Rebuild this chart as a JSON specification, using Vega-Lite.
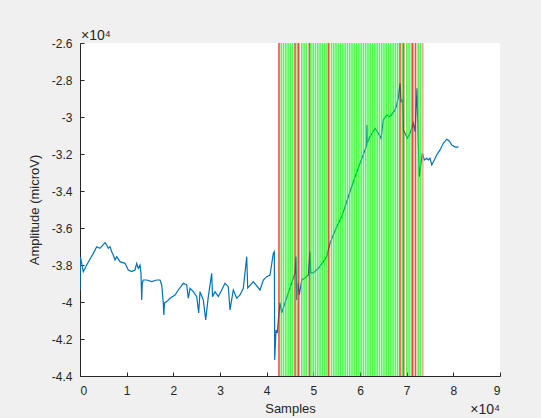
{
  "$schema": "https://vega.github.io/schema/vega-lite/v6.json",
  "width": 420,
  "height": 333,
  "autosize": "none",
  "padding": {"left": 80, "top": 43, "right": 41, "bottom": 42},
  "background": "#f0f0f0",
  "config": {
    "view": {"fill": "white", "stroke": null},
    "font": "Liberation Sans",
    "axis": {
      "grid": false,
      "domainColor": "#262626",
      "tickColor": "#262626",
      "labelColor": "#262626",
      "titleColor": "#262626",
      "labelFont": "Liberation Sans",
      "titleFont": "Liberation Sans",
      "labelFontSize": 12,
      "titleFontSize": 13,
      "titleFontWeight": "normal",
      "tickSize": -4,
      "labelOverlap": false
    }
  },
  "datasets": {
    "signal": [
      {"sample": 0, "amplitude": -39350},
      {"sample": 107, "amplitude": -37570},
      {"sample": 707, "amplitude": -38360},
      {"sample": 1436, "amplitude": -38000},
      {"sample": 2850, "amplitude": -37370},
      {"sample": 3579, "amplitude": -37010},
      {"sample": 4286, "amplitude": -37100},
      {"sample": 5358, "amplitude": -36790},
      {"sample": 5722, "amplitude": -36920},
      {"sample": 6065, "amplitude": -37100},
      {"sample": 6429, "amplitude": -37010},
      {"sample": 6793, "amplitude": -37280},
      {"sample": 7136, "amplitude": -37460},
      {"sample": 7501, "amplitude": -37730},
      {"sample": 7865, "amplitude": -37550},
      {"sample": 8572, "amplitude": -37820},
      {"sample": 9644, "amplitude": -37910},
      {"sample": 10351, "amplitude": -38270},
      {"sample": 11079, "amplitude": -38360},
      {"sample": 11787, "amplitude": -38270},
      {"sample": 12151, "amplitude": -37910},
      {"sample": 12494, "amplitude": -38180},
      {"sample": 12858, "amplitude": -38000},
      {"sample": 13072, "amplitude": -38450},
      {"sample": 13222, "amplitude": -39890},
      {"sample": 13351, "amplitude": -38970},
      {"sample": 13565, "amplitude": -38810},
      {"sample": 14294, "amplitude": -38810},
      {"sample": 15365, "amplitude": -38900},
      {"sample": 16437, "amplitude": -38810},
      {"sample": 17144, "amplitude": -38810},
      {"sample": 17508, "amplitude": -39080},
      {"sample": 17851, "amplitude": -40070},
      {"sample": 17958, "amplitude": -40700},
      {"sample": 18108, "amplitude": -40050},
      {"sample": 18580, "amplitude": -39980},
      {"sample": 19287, "amplitude": -39800},
      {"sample": 20359, "amplitude": -39620},
      {"sample": 21066, "amplitude": -39350},
      {"sample": 22137, "amplitude": -38990},
      {"sample": 22866, "amplitude": -39080},
      {"sample": 23209, "amplitude": -39800},
      {"sample": 23573, "amplitude": -39260},
      {"sample": 24280, "amplitude": -39440},
      {"sample": 25009, "amplitude": -39710},
      {"sample": 25437, "amplitude": -40590},
      {"sample": 25716, "amplitude": -39440},
      {"sample": 26423, "amplitude": -39890},
      {"sample": 26937, "amplitude": -40970},
      {"sample": 27494, "amplitude": -39710},
      {"sample": 28223, "amplitude": -38450},
      {"sample": 28395, "amplitude": -39710},
      {"sample": 28931, "amplitude": -39440},
      {"sample": 29638, "amplitude": -39710},
      {"sample": 30366, "amplitude": -39350},
      {"sample": 31074, "amplitude": -38990},
      {"sample": 31781, "amplitude": -39170},
      {"sample": 32145, "amplitude": -40430},
      {"sample": 32852, "amplitude": -39350},
      {"sample": 33581, "amplitude": -39800},
      {"sample": 34288, "amplitude": -39620},
      {"sample": 34995, "amplitude": -39260},
      {"sample": 35724, "amplitude": -37550},
      {"sample": 35938, "amplitude": -39240},
      {"sample": 37138, "amplitude": -38900},
      {"sample": 38574, "amplitude": -39350},
      {"sample": 39281, "amplitude": -38810},
      {"sample": 40010, "amplitude": -38630},
      {"sample": 40717, "amplitude": -38540},
      {"sample": 41424, "amplitude": -37370},
      {"sample": 41638, "amplitude": -37280},
      {"sample": 41724, "amplitude": -43130},
      {"sample": 42003, "amplitude": -41510},
      {"sample": 42281, "amplitude": -41670},
      {"sample": 42496, "amplitude": -40970},
      {"sample": 42860, "amplitude": -40050},
      {"sample": 43224, "amplitude": -40590},
      {"sample": 43931, "amplitude": -40050},
      {"sample": 44639, "amplitude": -39510},
      {"sample": 45368, "amplitude": -38970},
      {"sample": 46075, "amplitude": -38430},
      {"sample": 46289, "amplitude": -37550},
      {"sample": 46439, "amplitude": -39890},
      {"sample": 46717, "amplitude": -38970},
      {"sample": 46996, "amplitude": -39620},
      {"sample": 47510, "amplitude": -38810},
      {"sample": 48218, "amplitude": -38700},
      {"sample": 48925, "amplitude": -38540},
      {"sample": 49289, "amplitude": -37280},
      {"sample": 49439, "amplitude": -38430},
      {"sample": 49996, "amplitude": -38430},
      {"sample": 51068, "amplitude": -38180},
      {"sample": 52139, "amplitude": -37820},
      {"sample": 52868, "amplitude": -37550},
      {"sample": 53575, "amplitude": -36830},
      {"sample": 54282, "amplitude": -36380},
      {"sample": 55011, "amplitude": -35930},
      {"sample": 56082, "amplitude": -35390},
      {"sample": 56790, "amplitude": -34850},
      {"sample": 57861, "amplitude": -34040},
      {"sample": 58933, "amplitude": -33230},
      {"sample": 60004, "amplitude": -32500},
      {"sample": 61076, "amplitude": -31780},
      {"sample": 61440, "amplitude": -31510},
      {"sample": 61483, "amplitude": -30430},
      {"sample": 61547, "amplitude": -31410},
      {"sample": 62147, "amplitude": -31060},
      {"sample": 63219, "amplitude": -30610},
      {"sample": 63926, "amplitude": -30880},
      {"sample": 64504, "amplitude": -31150},
      {"sample": 64997, "amplitude": -30160},
      {"sample": 65726, "amplitude": -29890},
      {"sample": 66433, "amplitude": -29980},
      {"sample": 67505, "amplitude": -29620},
      {"sample": 67869, "amplitude": -29350},
      {"sample": 68083, "amplitude": -29080},
      {"sample": 68212, "amplitude": -28990},
      {"sample": 68576, "amplitude": -28180},
      {"sample": 68790, "amplitude": -29170},
      {"sample": 69069, "amplitude": -29080},
      {"sample": 69283, "amplitude": -30700},
      {"sample": 69648, "amplitude": -30880},
      {"sample": 70140, "amplitude": -31150},
      {"sample": 70719, "amplitude": -30880},
      {"sample": 71426, "amplitude": -30340},
      {"sample": 71791, "amplitude": -30790},
      {"sample": 72219, "amplitude": -28450},
      {"sample": 72498, "amplitude": -31420},
      {"sample": 72712, "amplitude": -33230},
      {"sample": 73076, "amplitude": -32500},
      {"sample": 73355, "amplitude": -31960},
      {"sample": 73783, "amplitude": -32320},
      {"sample": 74298, "amplitude": -32230},
      {"sample": 74641, "amplitude": -32320},
      {"sample": 75005, "amplitude": -32230},
      {"sample": 75370, "amplitude": -32590},
      {"sample": 75927, "amplitude": -32320},
      {"sample": 76441, "amplitude": -32050},
      {"sample": 77148, "amplitude": -31780},
      {"sample": 77855, "amplitude": -31420},
      {"sample": 78584, "amplitude": -31200},
      {"sample": 79077, "amplitude": -31280},
      {"sample": 79656, "amplitude": -31510},
      {"sample": 80212, "amplitude": -31600},
      {"sample": 80727, "amplitude": -31640},
      {"sample": 81069, "amplitude": -31600}
    ],
    "markers": [
      {"pos": 42640, "kind": "red"},
      {"pos": 43129, "kind": "green"},
      {"pos": 43618, "kind": "green"},
      {"pos": 44107, "kind": "green"},
      {"pos": 44596, "kind": "green"},
      {"pos": 45085, "kind": "green"},
      {"pos": 45574, "kind": "green"},
      {"pos": 46075, "kind": "red"},
      {"pos": 46552, "kind": "green"},
      {"pos": 46867, "kind": "red"},
      {"pos": 47530, "kind": "green"},
      {"pos": 48019, "kind": "green"},
      {"pos": 48508, "kind": "green"},
      {"pos": 49140, "kind": "red"},
      {"pos": 49486, "kind": "green"},
      {"pos": 49975, "kind": "green"},
      {"pos": 50464, "kind": "green"},
      {"pos": 50953, "kind": "green"},
      {"pos": 51442, "kind": "green"},
      {"pos": 51931, "kind": "green"},
      {"pos": 52420, "kind": "green"},
      {"pos": 52909, "kind": "green"},
      {"pos": 53300, "kind": "red"},
      {"pos": 53887, "kind": "green"},
      {"pos": 54376, "kind": "green"},
      {"pos": 54865, "kind": "green"},
      {"pos": 55354, "kind": "green"},
      {"pos": 55843, "kind": "green"},
      {"pos": 56332, "kind": "green"},
      {"pos": 56821, "kind": "green"},
      {"pos": 57310, "kind": "green"},
      {"pos": 57799, "kind": "green"},
      {"pos": 58288, "kind": "green"},
      {"pos": 58777, "kind": "green"},
      {"pos": 59266, "kind": "green"},
      {"pos": 59755, "kind": "green"},
      {"pos": 60244, "kind": "green"},
      {"pos": 60733, "kind": "green"},
      {"pos": 61222, "kind": "green"},
      {"pos": 61711, "kind": "green"},
      {"pos": 62200, "kind": "green"},
      {"pos": 62689, "kind": "green"},
      {"pos": 63178, "kind": "green"},
      {"pos": 63667, "kind": "green"},
      {"pos": 64156, "kind": "green"},
      {"pos": 64645, "kind": "green"},
      {"pos": 65134, "kind": "green"},
      {"pos": 65623, "kind": "green"},
      {"pos": 66112, "kind": "green"},
      {"pos": 66601, "kind": "green"},
      {"pos": 67090, "kind": "green"},
      {"pos": 67579, "kind": "green"},
      {"pos": 68068, "kind": "green"},
      {"pos": 68576, "kind": "red"},
      {"pos": 69046, "kind": "green"},
      {"pos": 69369, "kind": "red"},
      {"pos": 70024, "kind": "green"},
      {"pos": 70513, "kind": "green"},
      {"pos": 71002, "kind": "green"},
      {"pos": 71298, "kind": "red"},
      {"pos": 71898, "kind": "red"},
      {"pos": 72469, "kind": "green"},
      {"pos": 72958, "kind": "green"},
      {"pos": 73440, "kind": "pink"}
    ],
    "notes": [
      {"sx": 0, "sy": -26000, "label": "×10⁴", "where": "top"},
      {"sx": 90000, "sy": -44000, "label": "×10⁴", "where": "bottom"}
    ]
  },
  "layer": [
    {
      "data": {"name": "signal"},
      "mark": {"type": "line", "color": "#0072BD", "strokeWidth": 1.2, "clip": true},
      "encoding": {
        "x": {
          "field": "sample", "type": "quantitative",
          "scale": {"domain": [0, 90000], "nice": false, "zero": false},
          "axis": {
            "title": "Samples",
            "values": [0, 10000, 20000, 30000, 40000, 50000, 60000, 70000, 80000, 90000],
            "tickCount": 20,
            "labelExpr": "'' + (datum.value / 10000)",
            "labelOverlap": false,
            "labelPadding": 13,
            "titlePadding": 6
          }
        },
        "y": {
          "field": "amplitude", "type": "quantitative",
          "scale": {"domain": [-44000, -26000], "nice": false, "zero": false},
          "axis": {
            "title": "Amplitude (microV)",
            "values": [-44000, -42000, -40000, -38000, -36000, -34000, -32000, -30000, -28000, -26000],
            "tickCount": 20,
            "labelExpr": "'' + (datum.value / 10000)",
            "labelOverlap": false,
            "labelPadding": 12,
            "titlePadding": 10
          }
        }
      }
    },
    {
      "data": {"name": "markers"},
      "mark": {"type": "rule", "strokeWidth": 1.6, "opacity": 0.72},
      "encoding": {
        "x": {"field": "pos", "type": "quantitative"},
        "color": {
          "field": "kind", "type": "nominal",
          "scale": {"domain": ["green", "red", "pink"], "range": ["#00ff00", "#ff0000", "#ff8080"]},
          "legend": null
        }
      }
    },
    {
      "data": {"name": "notes"},
      "transform": [{"filter": "datum.where == 'top'"}],
      "mark": {"type": "text", "align": "left", "baseline": "alphabetic", "dy": -3, "dx": 1, "fontSize": 14, "color": "#262626", "font": "Liberation Sans"},
      "encoding": {
        "x": {"field": "sx", "type": "quantitative"},
        "y": {"field": "sy", "type": "quantitative"},
        "text": {"field": "label"}
      }
    },
    {
      "data": {"name": "notes"},
      "transform": [{"filter": "datum.where == 'bottom'"}],
      "mark": {"type": "text", "align": "right", "baseline": "alphabetic", "dy": 38, "fontSize": 14, "color": "#262626", "font": "Liberation Sans"},
      "encoding": {
        "x": {"field": "sx", "type": "quantitative"},
        "y": {"field": "sy", "type": "quantitative"},
        "text": {"field": "label"}
      }
    }
  ]
}
